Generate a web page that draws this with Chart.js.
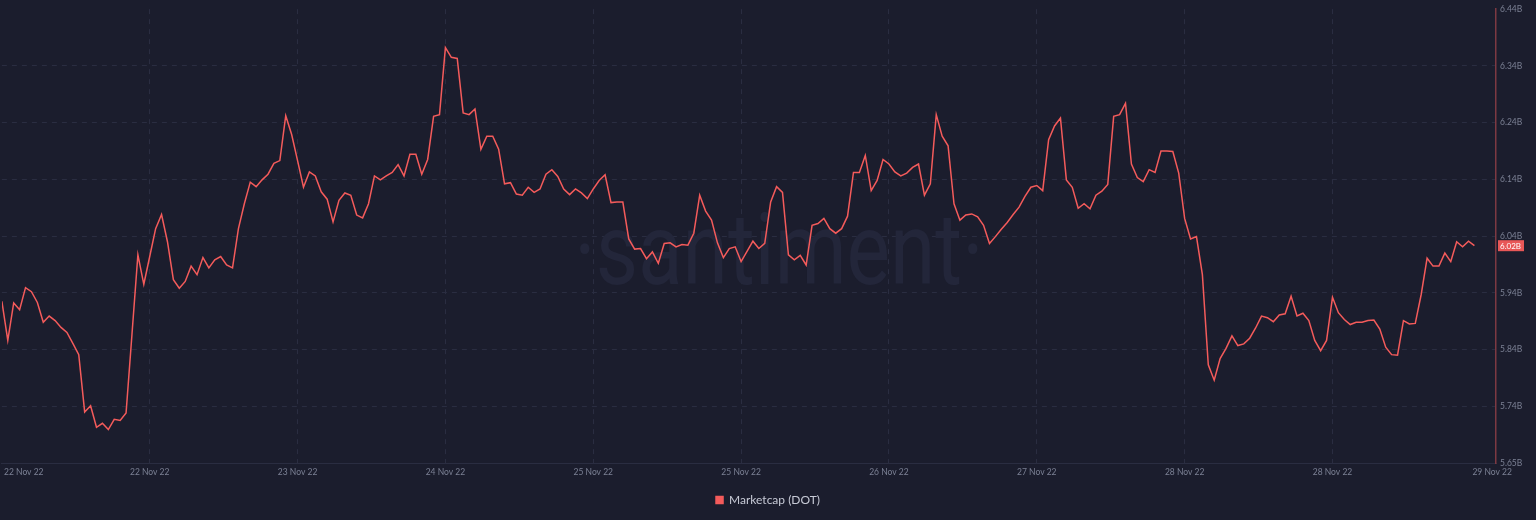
<!DOCTYPE html>
<html>
<head>
<meta charset="utf-8">
<script src="https://cdn.jsdelivr.net/npm/chart.js@4.4.0/dist/chart.umd.min.js"></script>
<style>
  html, body { margin: 0; padding: 0; background: #1b1d2d; }
  #wrap { width: 1536px; height: 520px; }
</style>
</head>
<body>
<div id="wrap"><canvas id="capChart"></canvas></div>
<script>
// Marketcap (DOT), billions USD, evenly spaced samples 22 Nov -> 29 Nov 22
const marketcapB = [
  5.925, 5.856, 5.922, 5.910, 5.949, 5.942, 5.923, 5.888, 5.899, 5.891,
  5.879, 5.870, 5.851, 5.831, 5.730, 5.741, 5.703, 5.710, 5.699, 5.717,
  5.715, 5.728, 5.867, 6.007, 5.955, 6.004, 6.053, 6.078, 6.030, 5.963,
  5.948, 5.960, 5.987, 5.972, 6.002, 5.984, 5.998, 6.004, 5.989, 5.984,
  6.053, 6.097, 6.135, 6.127, 6.139, 6.149, 6.168, 6.173, 6.252, 6.219,
  6.173, 6.126, 6.153, 6.146, 6.118, 6.105, 6.065, 6.103, 6.116, 6.112,
  6.077, 6.072, 6.097, 6.146, 6.139, 6.146, 6.152, 6.166, 6.146, 6.184,
  6.184, 6.149, 6.175, 6.251, 6.254, 6.372, 6.355, 6.353, 6.257, 6.254,
  6.264, 6.193, 6.216, 6.216, 6.193, 6.132, 6.134, 6.114, 6.112, 6.126,
  6.117, 6.123, 6.149, 6.157, 6.145, 6.123, 6.113, 6.123, 6.116, 6.106,
  6.123, 6.138, 6.148, 6.099, 6.100, 6.100, 6.035, 6.017, 6.018, 6.000,
  6.012, 5.992, 6.027, 6.028, 6.021, 6.025, 6.024, 6.045, 6.112, 6.084,
  6.068, 6.028, 6.002, 6.018, 6.021, 5.995, 6.013, 6.031, 6.018, 6.027,
  6.100, 6.127, 6.117, 6.007, 5.998, 6.006, 5.989, 6.059, 6.062, 6.071,
  6.053, 6.045, 6.053, 6.075, 6.152, 6.152, 6.182, 6.120, 6.138, 6.175,
  6.167, 6.153, 6.146, 6.151, 6.161, 6.167, 6.112, 6.132, 6.254, 6.216,
  6.199, 6.097, 6.068, 6.077, 6.079, 6.074, 6.059, 6.027, 6.039, 6.052,
  6.064, 6.078, 6.091, 6.110, 6.126, 6.129, 6.120, 6.210, 6.234, 6.248,
  6.139, 6.126, 6.089, 6.097, 6.088, 6.112, 6.119, 6.131, 6.251, 6.254,
  6.274, 6.167, 6.143, 6.136, 6.157, 6.152, 6.190, 6.190, 6.189, 6.151,
  6.071, 6.035, 6.039, 5.972, 5.813, 5.786, 5.824, 5.842, 5.864, 5.847,
  5.850, 5.860, 5.878, 5.899, 5.896, 5.889, 5.901, 5.903, 5.934, 5.899,
  5.904, 5.891, 5.856, 5.838, 5.856, 5.932, 5.905, 5.893, 5.884, 5.888,
  5.888, 5.891, 5.892, 5.876, 5.844, 5.831, 5.830, 5.891, 5.885, 5.886,
  5.937, 6.001, 5.987, 5.987, 6.010, 5.995, 6.030, 6.021, 6.031, 6.023
];

// x ticks are in sample-index units
const xTickValues = [3.7, 25, 50, 75, 100, 125, 150, 175, 200, 225, 252];
const xTickLabels = ['22 Nov 22', '22 Nov 22', '23 Nov 22', '24 Nov 22', '25 Nov 22', '25 Nov 22',
                     '26 Nov 22', '27 Nov 22', '28 Nov 22', '28 Nov 22', '29 Nov 22'];
const yTickValues = [5.64, 5.74, 5.84, 5.94, 6.04, 6.14, 6.24, 6.34, 6.44];
const yTickLabels = ['5.65B', '5.74B', '5.84B', '5.94B', '6.04B', '6.14B', '6.24B', '6.34B', '6.44B'];

const lineColor = '#f45b5b';
const gridColor = '#2a2d41';
const tickColor = '#7b8094';
const fontFamily = 'Lato, "Open Sans", sans-serif';

// faint brand text behind the line
const watermark = {
  id: 'watermark',
  beforeDatasetsDraw(chart) {
    const { ctx, chartArea } = chart;
    ctx.save();
    ctx.translate((chartArea.left + chartArea.right) / 2 + 30, chartArea.top + 250);
    ctx.scale(0.82, 1);
    ctx.font = '400 100px Roboto, sans-serif';
    ctx.fillStyle = '#23263a';
    ctx.textAlign = 'center';
    ctx.fillText('·santiment·', 0, 0);
    ctx.restore();
  }
};

// red badge with the latest value on the right axis
const lastBadge = {
  id: 'lastBadge',
  afterDraw(chart) {
    const { ctx, chartArea, scales } = chart;
    const last = marketcapB[marketcapB.length - 1];
    const y = scales.y.getPixelForValue(last);
    ctx.save();
    ctx.fillStyle = '#e85757';
    ctx.fillRect(chartArea.right + 2, y - 5.5, 26, 11);
    ctx.fillStyle = '#ffffff';
    ctx.font = '8px ' + fontFamily;
    ctx.textBaseline = 'middle';
    ctx.fillText(last.toFixed(2) + 'B', chartArea.right + 4, y + 0.5);
    ctx.restore();
  }
};

new Chart(document.getElementById('capChart'), {
  type: 'line',
  data: {
    datasets: [{
      label: 'Marketcap (DOT)',
      data: marketcapB.map((v, i) => ({ x: i, y: v })),
      borderColor: lineColor,
      backgroundColor: lineColor,
      borderWidth: 1.5,
      pointRadius: 0,
      tension: 0
    }]
  },
  options: {
    responsive: true,
    maintainAspectRatio: false,
    animation: false,
    layout: { autoPadding: false, padding: { top: 2, left: 0, right: 0, bottom: 4 } },
    plugins: {
      legend: {
        position: 'bottom',
        labels: {
          boxWidth: 7, boxHeight: 7, padding: 8,
          color: '#c7cad6',
          font: { family: fontFamily, size: 12 }
        }
      },
      tooltip: { enabled: false }
    },
    scales: {
      x: {
        type: 'linear',
        min: 0,
        max: 252.65,
        afterBuildTicks: s => { s.ticks = xTickValues.map(v => ({ value: v })); },
        afterFit: s => { s.height = 23; },
        ticks: {
          autoSkip: false, maxRotation: 0, padding: 4,
          color: tickColor,
          font: { family: fontFamily, size: 8.5 },
          callback: (v, i) => xTickLabels[i]
        },
        grid: {
          drawTicks: false,
          color: c => (c.index === 0 || c.index === xTickValues.length - 1) ? 'transparent' : gridColor
        },
        border: { display: true, color: gridColor, dash: [5, 5] }
      },
      y: {
        position: 'right',
        min: 5.64,
        max: 6.44,
        afterBuildTicks: s => { s.ticks = yTickValues.map(v => ({ value: v })); },
        afterFit: s => { s.width = 40; },
        ticks: {
          padding: 4,
          color: tickColor,
          font: { family: fontFamily, size: 8.5 },
          callback: (v, i) => yTickLabels[i]
        },
        grid: {
          drawTicks: false,
          color: c => c.index === yTickValues.length - 1 ? 'transparent' : gridColor
        },
        border: { display: true, color: '#7d3942', width: 1.5, dash: [5, 5] }
      }
    }
  },
  plugins: [watermark, lastBadge]
});
</script>
</body>
</html>
